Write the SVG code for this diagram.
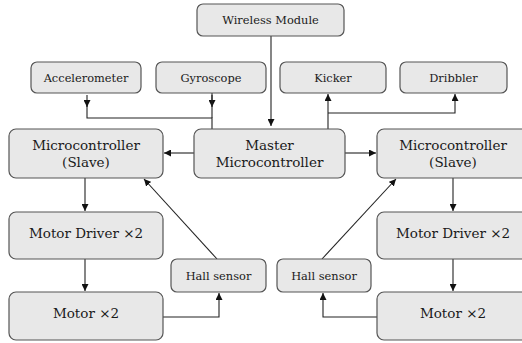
<svg xmlns="http://www.w3.org/2000/svg" width="522" height="343" viewBox="0 0 522 343">
<defs>
<style>
.box{fill:#e8e8e8;stroke:#555;stroke-width:1.2}
.t{font-family:"DejaVu Serif","Liberation Serif",serif;fill:#1a1a1a;text-anchor:middle}
.s{font-size:11.4px}
.b{font-size:13.5px}
.c{fill:none;stroke:#222;stroke-width:1.1}
</style>
<marker id="ah" viewBox="0 0 10 10" refX="10" refY="5" markerWidth="7" markerHeight="7" orient="auto" markerUnits="userSpaceOnUse">
<path d="M0,0L10,5L0,10z" fill="#111"/>
</marker>
</defs>
<g id="connectors">
<path class="c" d="M271,36V126" marker-end="url(#ah)"/>
<path class="c" d="M212,129V118H87V100"/>
<path class="c" d="M87,95V107" marker-end="url(#ah)"/>
<path class="c" d="M212,95V107" marker-end="url(#ah)"/>
<path class="c" d="M212,93V118"/>
<path class="c" d="M328,129V94" marker-end="url(#ah)"/>
<path class="c" d="M328,113H455V94" marker-end="url(#ah)"/>
<path class="c" d="M194,153H164" marker-end="url(#ah)"/>
<path class="c" d="M345,153H376" marker-end="url(#ah)"/>
<path class="c" d="M85,178V211" marker-end="url(#ah)"/>
<path class="c" d="M85,259V291" marker-end="url(#ah)"/>
<path class="c" d="M453,178V211" marker-end="url(#ah)"/>
<path class="c" d="M453,259V291" marker-end="url(#ah)"/>
<path class="c" d="M163,317H219V293" marker-end="url(#ah)"/>
<path class="c" d="M377,317H323V293" marker-end="url(#ah)"/>
<path class="c" d="M217,259L144,179" marker-end="url(#ah)"/>
<path class="c" d="M322,259L396,179" marker-end="url(#ah)"/>
</g>
<g id="wireless"><rect class="box" x="197" y="4" width="147" height="32" rx="6"/><text class="t s" x="270.5" y="24">Wireless Module</text></g>
<g id="accelerometer"><rect class="box" x="31" y="62" width="110" height="31" rx="6"/><text class="t s" x="86" y="81.5">Accelerometer</text></g>
<g id="gyroscope"><rect class="box" x="156" y="62" width="110" height="31" rx="6"/><text class="t s" x="211" y="81.5">Gyroscope</text></g>
<g id="kicker"><rect class="box" x="280" y="62" width="106" height="31" rx="6"/><text class="t s" x="333" y="81.5">Kicker</text></g>
<g id="dribbler"><rect class="box" x="400" y="62" width="107" height="31" rx="6"/><text class="t s" x="453.5" y="81.5">Dribbler</text></g>
<g id="master"><rect class="box" x="194" y="129" width="151" height="49" rx="7"/><text class="t b" x="269.5" y="150">Master</text><text class="t b" x="269.5" y="167">Microcontroller</text></g>
<g id="slave-left"><rect class="box" x="9" y="129" width="154" height="49" rx="7"/><text class="t b" x="86" y="150">Microcontroller</text><text class="t b" x="86" y="167">(Slave)</text></g>
<g id="slave-right"><rect class="box" x="377" y="129" width="154" height="49" rx="7"/><text class="t b" x="453" y="150">Microcontroller</text><text class="t b" x="453" y="167">(Slave)</text></g>
<g id="driver-left"><rect class="box" x="9" y="212" width="154" height="47" rx="7"/><text class="t b" x="86" y="238">Motor Driver ×2</text></g>
<g id="driver-right"><rect class="box" x="377" y="212" width="154" height="47" rx="7"/><text class="t b" x="453" y="238">Motor Driver ×2</text></g>
<g id="motor-left"><rect class="box" x="9" y="292" width="154" height="48" rx="7"/><text class="t b" x="86" y="318">Motor ×2</text></g>
<g id="motor-right"><rect class="box" x="377" y="292" width="154" height="48" rx="7"/><text class="t b" x="453" y="318">Motor ×2</text></g>
<g id="hall-left"><rect class="box" x="171" y="259" width="95" height="33" rx="6"/><text class="t s" x="218.5" y="279.5">Hall sensor</text></g>
<g id="hall-right"><rect class="box" x="277" y="259" width="94" height="33" rx="6"/><text class="t s" x="324" y="279.5">Hall sensor</text></g>
</svg>
